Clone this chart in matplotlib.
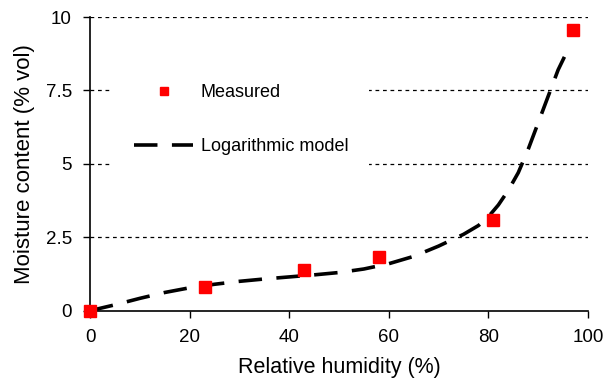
import matplotlib
matplotlib.use("Agg")
import matplotlib.pyplot as plt

plt.rcParams['font.family'] = ['Liberation Sans', 'DejaVu Sans']

# Measured data
meas_rh = [0, 23, 43, 58, 81, 97]
meas_mc = [0.0, 0.81, 1.38, 1.84, 3.08, 9.55]

# Logarithmic model curve
model_rh = [0, 5, 10, 15, 20, 25, 30, 35, 40, 45, 50, 55, 60, 65, 70, 75, 78,
            80, 82, 84, 86, 88, 90, 92, 94, 96]
model_mc = [0.0, 0.2, 0.42, 0.62, 0.78, 0.9, 1.0, 1.08, 1.15, 1.22, 1.3, 1.42,
            1.6, 1.85, 2.2, 2.6, 2.9, 3.2, 3.6, 4.1, 4.7, 5.5, 6.4, 7.3, 8.2, 8.9]

yticks = [0, 2.5, 5, 7.5, 10]
ytick_labels = ['0', '2.5', '5', '7.5', '10']
xticks = [0, 20, 40, 60, 80, 100]

fig = plt.figure(figsize=(6.15, 3.84), dpi=100)
ax = fig.add_axes([90/615, 1 - 310.7/384, (588-90)/615, (310.7-17)/384])

for yv in yticks[1:]:
    ax.axhline(yv, color='black', lw=0.9, ls=(0, (3, 3)), zorder=1)

ax.plot(model_rh, model_mc, color='black', lw=2.6, ls=(0, (6.5, 4)),
        label='Logarithmic model', zorder=3)
ax.plot(meas_rh, meas_mc, ls='none', marker='s', ms=9, color='#ff0000',
        mec='#ff0000', label='Measured', zorder=4, clip_on=False)

ax.set_xlim(0, 100)
ax.set_ylim(0, 10)
ax.set_xticks(xticks)
ax.set_yticks(yticks)
ax.set_yticklabels(ytick_labels)
ax.tick_params(direction='out', length=5, width=1, labelsize=13.5, pad=8)
for s in ['top', 'right']:
    ax.spines[s].set_visible(False)
for s in ['left', 'bottom']:
    ax.spines[s].set_linewidth(1.2)

ax.set_xlabel('Relative humidity (%)', fontsize=15.5, labelpad=8)
ax.set_ylabel('Moisture content (% vol)', fontsize=16, labelpad=8)

handles, labels = ax.get_legend_handles_labels()
leg = ax.legend(handles[::-1], labels[::-1], loc='upper left',
                bbox_to_anchor=(0.028, 0.873), fontsize=13, frameon=True,
                facecolor='white', edgecolor='none', framealpha=1,
                handlelength=3.3, labelspacing=2.05, borderpad=1.15,
                handletextpad=0.4, markerscale=0.7)
leg.set_zorder(5)

fig.savefig('out.png', dpi=100, facecolor='white')
